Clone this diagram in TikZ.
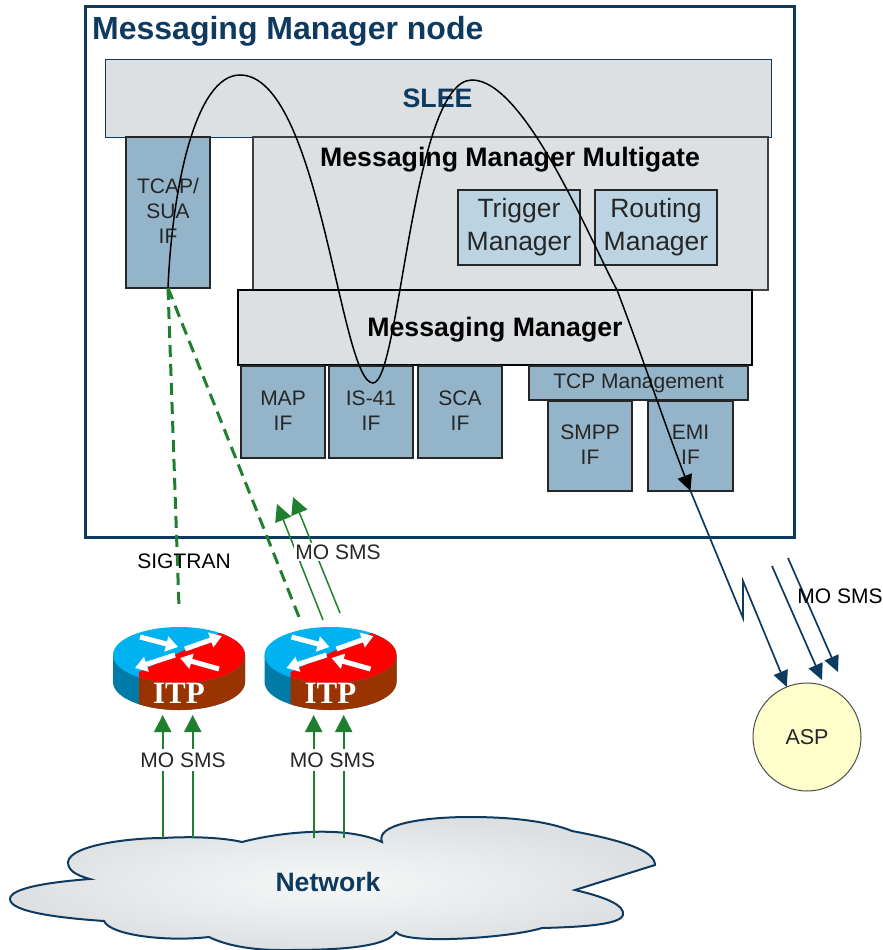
\documentclass[tikz,border=0pt]{standalone}
\usepackage{fontspec}
\setmainfont{Liberation Sans}
\newfontfamily\itpfont{Liberation Serif}
\usetikzlibrary{arrows.meta}
\definecolor{framecol}{HTML}{0F3A5F}
\definecolor{greycol}{HTML}{DDE0E2}
\definecolor{ifcol}{HTML}{93B4C9}
\definecolor{mgrcol}{HTML}{BCD4E1}
\definecolor{linkcol}{HTML}{1F7F2F}
\definecolor{aspcol}{HTML}{FFFFCC}
\definecolor{itpcyan}{HTML}{00B2F0}
\definecolor{itpred}{HTML}{FF0000}
\definecolor{itpblue}{HTML}{007BA7}
\definecolor{itpbrown}{HTML}{993300}
\newcommand{\sizetext}[1]{\fontsize{#1}{#1}\selectfont}
\tikzset{
  grey box/.style={draw=black!75,line width=1.5pt,fill=greycol,inner sep=0pt,outer sep=0pt},
  if box/.style={draw=black!85,line width=1.5pt,fill=ifcol,inner sep=0pt,outer sep=0pt,align=center,
    text=black!85,font=\fontsize{21}{25}\selectfont},
  port box/.style={if box,text depth=3pt},
  mgr box/.style={if box,fill=mgrcol,font=\fontsize{26.5}{33}\selectfont},
  bold label/.style={font=\sizetext{26.7}\bfseries,inner sep=0pt},
  sms label/.style={font=\sizetext{21},inner sep=0pt,text=black!85},
  green link/.style={draw=linkcol,line width=2pt},
  green arrow/.style={green link,-{Triangle[width=17pt,length=17pt]}},
  green dash/.style={draw=linkcol,line width=3pt,dash pattern=on 12pt off 7pt},
  blue arrow/.style={draw=framecol,line width=1.7pt,-{Triangle[width=15pt,length=16pt]}},
  itp arrow/.style={draw=white,line width=5pt,-{Triangle[width=15pt,length=12pt]}},
}
\begin{document}
\begin{tikzpicture}[x=1pt,y=-1pt]
\useasboundingbox (0,0) rectangle (883,950);

\node[draw=framecol,line width=3pt,inner sep=0pt,minimum width=709pt,minimum height=530pt] (frame) at (439.5,272) {};
\node[anchor=west,inner sep=0pt,text=framecol,font=\sizetext{32}\bfseries] (title) at (92,31) {Messaging Manager node};

\node[grey box,draw=framecol,line width=1pt,minimum width=666pt,minimum height=77pt] (slee) at (438,98.5) {};
\node[bold label,text=framecol] (sleetext) at (437.5,98) {SLEE};
\node[port box,minimum width=84pt,minimum height=151pt] (tcap) at (168,212.5) {TCAP/\\SUA\\IF};
\node[grey box,minimum width=515pt,minimum height=153pt] (multigate) at (510.5,213.5) {};
\node[bold label] (multigatetext) at (510,160) {Messaging Manager Multigate};
\node[mgr box,minimum width=122pt,minimum height=75pt] (trigger) at (519,227.5) {Trigger\\Manager};
\node[mgr box,minimum width=122pt,minimum height=75pt] (routing) at (656,227.5) {Routing\\Manager};
\node[grey box,draw=black,minimum width=514pt,minimum height=75pt] (manager) at (495,327.5) {};
\node[bold label] (managertext) at (495,330) {Messaging Manager};
\node[port box,minimum width=84pt,minimum height=92pt] (map) at (283,412) {MAP\\IF};
\node[port box,minimum width=84pt,minimum height=92pt] (is41) at (371,412) {IS-41\\IF};
\node[port box,minimum width=84pt,minimum height=92pt] (sca) at (460,412) {SCA\\IF};
\node[if box,minimum width=219pt,minimum height=34pt] (tcpmgmt) at (638.5,383) {TCP Management};
\node[port box,minimum width=84pt,minimum height=90pt] (smpp) at (590,446) {SMPP\\IF};
\node[port box,minimum width=85pt,minimum height=90pt] (emi) at (690.5,446) {EMI\\IF};

% cloud
\draw[draw=framecol,line width=2pt,shade,inner color=greycol!25!white,outer color=greycol]
  (242,842) .. controls (280,832) and (345,825) .. (382,842)
  .. controls (375,825) and (420,817) .. (470,817)
  .. controls (515,817) and (550,822) .. (572,831)
  .. controls (620,840) and (655,850) .. (655,865)
  -- (575,890)
  .. controls (605,897) and (625,905) .. (623,915)
  .. controls (620,925) and (580,927) .. (542,928)
  .. controls (510,938) and (405,945) .. (396,932)
  .. controls (385,950) and (320,950) .. (280,950)
  .. controls (250,950) and (225,945) .. (209,937)
  .. controls (165,942) and (110,935) .. (104,921)
  .. controls (60,918) and (10,912) .. (10,899)
  .. controls (10,888) and (50,882) .. (90,879)
  .. controls (75,875) and (68,870) .. (68,862)
  .. controls (70,845) and (130,838) .. (163,838)
  .. controls (195,836) and (225,838) .. (242,842) -- cycle;
\node[font=\sizetext{26.6}\bfseries,text=framecol,inner sep=0pt] (network) at (328,882) {Network};

% routers
\foreach \rname/\rx in {itpa/113,itpb/264.5} {
  \begin{scope}[shift={(\rx,655)}]
    \fill[itpblue] (0,0) rectangle (132,27) (66,27) ellipse[x radius=66pt,y radius=28pt];
    \begin{scope}
      \clip (26,-30) rectangle (140,60);
      \fill[itpbrown] (0,0) rectangle (132,27) (66,27) ellipse[x radius=66pt,y radius=28pt];
    \end{scope}
    \fill[itpcyan] (66,0) ellipse[x radius=66pt,y radius=28pt];
    \begin{scope}
      \clip (66,0) ellipse[x radius=66pt,y radius=28pt];
      \fill[itpred] (26,17) -- (107,-22) -- (140,-30) -- (140,40) -- (26,40) -- cycle;
    \end{scope}
    \draw[itp arrow] (27,-18) -- (65,-8);
    \draw[itp arrow] (72,-6) -- (109,-19);
    \draw[itp arrow] (62,0) -- (22,13);
    \draw[itp arrow] (106,14) -- (67,3);
    \node[minimum width=132pt,minimum height=88pt,inner sep=0pt,outer sep=0pt] (\rname) at (66,16) {};
    \node[text=white,inner sep=0pt,font=\itpfont\bfseries\sizetext{31}] (\rname text) at (66,38) {ITP};
  \end{scope}
}

% asp
\node[circle,draw=black!70,line width=1pt,fill=aspcol,minimum size=108pt,inner sep=0pt,outer sep=0pt,font=\sizetext{21.5},text=black!85] (asp) at (807,737) {ASP};

% free ends
\coordinate (neta1) at (162.7,838);
\coordinate (neta2) at (192.7,838);
\coordinate (netb1) at (313.7,838);
\coordinate (netb2) at (343.7,838);
\coordinate (sigend1) at (179,607);
\coordinate (sigend2) at (299,617);
\coordinate (smsfrom1) at (323,620);
\coordinate (smsto1) at (277,504);
\coordinate (smsfrom2) at (340,613);
\coordinate (smsto2) at (293,497);
\coordinate (kink1) at (743,618);
\coordinate (kink2) at (743,581);
\coordinate (aspfrom1) at (772,566);
\coordinate (aspto1) at (822,680);
\coordinate (aspfrom2) at (788,558);
\coordinate (aspto2) at (838,672);

\draw[green arrow] (neta1) -- (neta1 |- itpa.south);
\draw[green arrow] (neta2) -- (neta2 |- itpa.south);
\draw[green arrow] (netb1) -- (netb1 |- itpb.south);
\draw[green arrow] (netb2) -- (netb2 |- itpb.south);
\node[sms label,fill=white,inner xsep=1pt,inner ysep=3.5pt] (smsa) at (183,760) {MO SMS};
\node[sms label,fill=white,inner xsep=1pt,inner ysep=3.5pt] (smsb) at (332.5,760) {MO SMS};

\draw[green dash] (tcap.south) -- (sigend1);
\draw[green dash] (tcap.south) -- (sigend2);
\draw[green arrow,line width=1.5pt] (smsfrom1) -- (smsto1);
\draw[green arrow,line width=1.5pt] (smsfrom2) -- (smsto2);
\node[sms label,fill=white,inner xsep=1pt,inner ysep=2pt] (smsc) at (338,552) {MO SMS};
\node[sms label,text=black] (sigtran) at (184,561) {SIGTRAN};

\draw[blue arrow] (emi.south) -- (kink1) -- (kink2) -- (asp.112);
\draw[blue arrow] (aspfrom1) -- (aspto1);
\draw[blue arrow] (aspfrom2) -- (aspto2);
\node[sms label,text=black] (smsd) at (840,596) {MO SMS};

\draw[black,line width=1.5pt,-{Triangle[width=15pt,length=16pt]}] (tcap.south)
  .. controls (172,190) and (195,75) .. (240,75)
  .. controls (320,75) and (340,383) .. (373,383)
  .. controls (400,383) and (412,80) .. (472,80)
  .. controls (525,80) and (590,240) .. (617,290)
  .. controls (640,350) and (665,425) .. (emi.south);
\end{tikzpicture}
\end{document}
